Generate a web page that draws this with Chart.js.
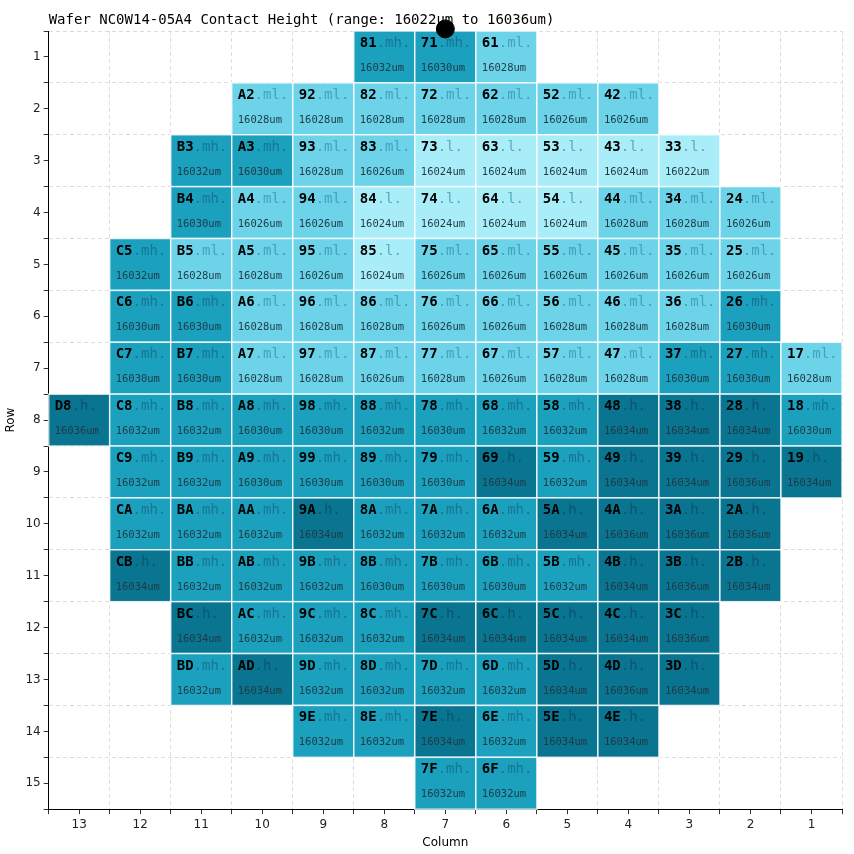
<!DOCTYPE html>
<html>
<head>
<meta charset="utf-8">
<script src="https://cdn.jsdelivr.net/npm/chart.js@4"></script>
<style>
  html, body { margin: 0; padding: 0; background: #fff; }
</style>
</head>
<body>
<canvas id="wafer" width="854" height="854"></canvas>
<script>
// first column of each row (columns run 13 -> 1, left to right)
const rowNumbers = [1, 2, 3, 4, 5, 6, 7, 8, 9, 10, 11, 12, 13, 14, 15];
const rowStartColumn = [8, 10, 11, 11, 12, 12, 12, 13, 12, 12, 12, 11, 11, 9, 7];
// heights per row, read left to right
const rowHeights = [
    [16032, 16030, 16028],
    [16028, 16028, 16028, 16028, 16028, 16026, 16026],
    [16032, 16030, 16028, 16026, 16024, 16024, 16024, 16024, 16022],
    [16030, 16026, 16026, 16024, 16024, 16024, 16024, 16028, 16028, 16026],
    [16032, 16028, 16028, 16026, 16024, 16026, 16026, 16026, 16026, 16026, 16026],
    [16030, 16030, 16028, 16028, 16028, 16026, 16026, 16028, 16028, 16028, 16030],
    [16030, 16030, 16028, 16028, 16026, 16028, 16026, 16028, 16028, 16030, 16030, 16028],
    [16036, 16032, 16032, 16030, 16030, 16032, 16030, 16032, 16032, 16034, 16034, 16034, 16030],
    [16032, 16032, 16030, 16030, 16030, 16030, 16034, 16032, 16034, 16034, 16036, 16034],
    [16032, 16032, 16032, 16034, 16032, 16032, 16032, 16034, 16036, 16036, 16036],
    [16034, 16032, 16032, 16032, 16030, 16030, 16030, 16032, 16034, 16036, 16034],
    [16034, 16032, 16032, 16032, 16034, 16034, 16034, 16034, 16036],
    [16032, 16034, 16032, 16032, 16032, 16032, 16034, 16036, 16034],
    [16032, 16032, 16034, 16032, 16034, 16034],
    [16032, 16032]
];
const notch = [{ x: 7, y: 0.46 }];
const titleText = "Wafer NC0W14-05A4 Contact Height (range: 16022um to 16036um)";

const bandNames  = ["l", "ml", "mh", "h"];
const bandLimits = [16024, 16028, 16032];
const bandFill   = ["#a9edf9", "#6cd3e8", "#1ba0bd", "#0a7590"];
const bandText   = ["rgba(60,140,160,0.7)", "rgba(40,130,160,0.6)", "rgba(20,90,120,0.6)", "rgba(10,60,80,0.55)"];

function band(v){
    let i = 0;
    while(i < bandLimits.length && v > bandLimits[i]) i++;
    return i;
}

const cells = [];
rowNumbers.forEach((row, r) => {
    rowHeights[r].forEach((v, k) => {
        const col = rowStartColumn[r] - k;
        cells.push({ col, row, v, label: col.toString(16).toUpperCase() + row.toString(16).toUpperCase() });
    });
});

const mono = "'DejaVu Sans Mono', monospace";

const cellPlugin = {
    id: "cells",
    beforeDatasetsDraw(chart){
        const { ctx, scales: { x, y } } = chart;
        ctx.save();
        cells.forEach(c => {
            const x0 = x.getPixelForValue(c.col + 0.5), x1 = x.getPixelForValue(c.col - 0.5);
            const y0 = y.getPixelForValue(c.row - 0.5), y1 = y.getPixelForValue(c.row + 0.5);
            const b = band(c.v);
            ctx.fillStyle = bandFill[b];
            ctx.fillRect(x0, y0, x1 - x0, y1 - y0);
            ctx.strokeStyle = "rgba(255,255,255,0.8)";
            ctx.lineWidth = 1.5;
            ctx.strokeRect(x0, y0, x1 - x0, y1 - y0);

            ctx.textBaseline = "alphabetic";
            ctx.font = "bold 14px " + mono;
            ctx.fillStyle = "#000";
            ctx.fillText(c.label, x0 + 6, y0 + 16);
            const w = ctx.measureText(c.label).width;
            ctx.font = "14px " + mono;
            ctx.fillStyle = bandText[b];
            ctx.fillText("." + bandNames[b] + ".", x0 + 6 + w, y0 + 16);

            ctx.font = "10.5px " + mono;
            ctx.fillStyle = "#1f3a44";
            ctx.fillText(c.v + "um", x0 + 6, y0 + 40);
        });
        ctx.restore();
    },
    afterDraw(chart){
        const ctx = chart.ctx;
        ctx.save();
        ctx.font = "14px " + mono;
        ctx.fillStyle = "#000";
        ctx.textBaseline = "alphabetic";
        ctx.fillText(titleText, chart.chartArea.left, 24);
        ctx.restore();
    }
};

const gridColor = ctx => (ctx.tick && ctx.tick.value % 1 !== 0) ? "#dddddd" : "rgba(0,0,0,0)";
const tickFont = { family: "'DejaVu Sans', sans-serif", size: 12 };

new Chart(document.getElementById("wafer"), {
    type: "scatter",
    data: {
        datasets: [{
            data: notch,
            pointRadius: 9,
            pointBackgroundColor: "#000",
            pointBorderColor: "#000",
            clip: false
        }]
    },
    options: {
        responsive: false,
        animation: false,
        layout: { padding: { left: 0, right: 12, top: 31, bottom: 0 } },
        plugins: {
            legend: { display: false },
            tooltip: { enabled: false }
        },
        scales: {
            x: {
                type: "linear",
                min: 0.5, max: 13.5,
                reverse: true,
                ticks: {
                    stepSize: 0.5,
                    autoSkip: false,
                    maxRotation: 0,
                    color: "#222",
                    font: tickFont,
                    callback: v => v % 1 === 0 ? v : ""
                },
                grid: { color: gridColor, tickColor: "#333", tickLength: 5, tickBorderDash: [] },
                border: { color: "#000", dash: [4, 3] },
                title: { display: true, text: "Column", color: "#000", font: tickFont, padding: { top: 1, bottom: 4 } }
            },
            y: {
                type: "linear",
                min: 0.5, max: 15.5,
                reverse: true,
                ticks: {
                    stepSize: 0.5,
                    autoSkip: false,
                    color: "#222",
                    font: tickFont,
                    callback: v => v % 1 === 0 ? v : ""
                },
                grid: { color: gridColor, tickColor: "#333", tickLength: 5, tickBorderDash: [] },
                border: { color: "#000", dash: [4, 3] },
                title: { display: true, text: "Row", color: "#000", font: tickFont }
            }
        }
    },
    plugins: [cellPlugin]
});
</script>
</body>
</html>
